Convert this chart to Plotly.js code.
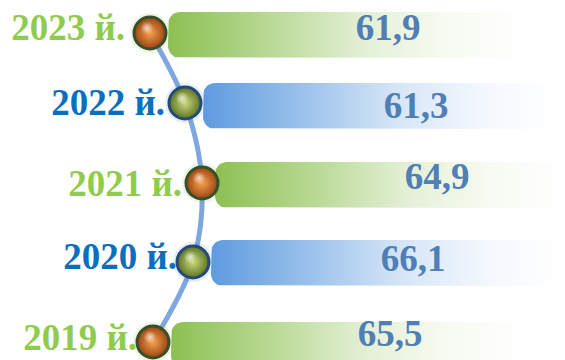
<!DOCTYPE html>
<html>
<head>
<meta charset="utf-8">
<script src="https://cdn.plot.ly/plotly-3.0.1.min.js"></script>
<style>html,body{margin:0;padding:0;background:#fff;}#chart{width:565px;height:360px;}</style>
</head>
<body>
<div id="chart"></div>
<script>
// ---- data ----
const years = ['2023 й.', '2022 й.', '2021 й.', '2020 й.', '2019 й.'];
const values = [61.9, 61.3, 64.9, 66.1, 65.5];

// ---- layout (pixel positions of the infographic rows) ----
const rowY   = [35, 106, 185, 263, 345];
const ballX  = [150, 185, 202, 193, 153];
const ballY  = [33, 103, 183, 262, 342];
const barL   = [168, 203, 215, 211, 171];
const barR   = [525, 555, 565, 560, 525];
const barH   = 46;
const valX   = [388, 416, 437, 413, 390];
const valY   = [31, 109, 180, 262, 337];
const labR   = [125, 165, 182, 177, 137];
const labY   = [31, 106, 187, 260, 341];
const kind   = ['g', 'b', 'g', 'b', 'g'];

const labelColor = {g: '#8fcc4e', b: '#0a6fbf'};
const barScale = {
  g: [[0, '#8cc052'], [0.25, '#b3d68c'], [0.55, '#e4f0d6'], [0.8, '#f8fbf3'], [1, '#ffffff']],
  b: [[0, '#5f9be0'], [0.25, '#93bdea'], [0.55, '#d6e6f7'], [0.8, '#f4f8fe'], [1, '#ffffff']]
};

function barPath(L, R, top, bot, r) {
  const xs = [], ys = [];
  xs.push(L + r, R, R, L + r); ys.push(top, top, bot, bot);
  for (let a = 90; a <= 180; a += 10) {
    const t = a * Math.PI / 180;
    xs.push(L + r + r * Math.cos(t)); ys.push(bot - r + r * Math.sin(t));
  }
  for (let a = 180; a <= 270; a += 10) {
    const t = a * Math.PI / 180;
    xs.push(L + r + r * Math.cos(t)); ys.push(top + r + r * Math.sin(t));
  }
  return {xs, ys};
}

const traces = [];

// connecting curve
traces.push({
  type: 'scatter', mode: 'lines', x: ballX, y: ballY,
  line: {color: '#7fa6de', width: 5, shape: 'spline', smoothing: 1},
  hoverinfo: 'skip'
});

// bars
years.forEach((y, i) => {
  const p = barPath(barL[i], barR[i], rowY[i] - barH / 2, rowY[i] + barH / 2, 12);
  traces.push({
    type: 'scatter', mode: 'lines', x: p.xs, y: p.ys, fill: 'toself',
    line: {width: 0, color: 'rgba(0,0,0,0)'},
    fillgradient: {type: 'horizontal', colorscale: barScale[kind[i]], start: barL[i], stop: barR[i]},
    hoverinfo: 'skip'
  });
});

// ball halos
traces.push({
  type: 'scatter', mode: 'markers', x: ballX, y: ballY,
  marker: {size: 40, color: kind.map(k => k === 'g' ? 'rgba(140,190,90,0.15)' : 'rgba(90,140,210,0.15)'), line: {width: 0}},
  hoverinfo: 'skip'
});
// balls
traces.push({
  type: 'scatter', mode: 'markers', x: ballX, y: ballY,
  marker: {
    size: 32,
    color: kind.map(k => k === 'g' ? '#9a4410' : '#5a7420'),
    gradient: {type: 'radial', color: kind.map(k => k === 'g' ? '#f7a050' : '#cdd97e')},
    line: {width: 3, color: kind.map(k => k === 'g' ? '#35502a' : '#27487a')}
  },
  hoverinfo: 'skip'
});
// highlights
traces.push({
  type: 'scatter', mode: 'markers', x: ballX.map(v => v - 3), y: ballY.map(v => v - 5),
  marker: {size: 13, color: 'rgba(255,255,255,0)', gradient: {type: 'radial', color: 'rgba(255,255,255,0.7)'}, line: {width: 0}},
  hoverinfo: 'skip'
});

// year labels
traces.push({
  type: 'scatter', mode: 'text', x: labR, y: labY, text: years,
  textposition: 'middle left',
  textfont: {family: 'Liberation Serif, Times New Roman, serif', size: 37, color: kind.map(k => labelColor[k]), weight: 'bold'},
  hoverinfo: 'skip'
});
// value labels
traces.push({
  type: 'scatter', mode: 'text', x: valX, y: valY,
  text: values.map(v => v.toFixed(1).replace('.', ',')),
  textposition: 'middle center',
  textfont: {family: 'Liberation Serif, Times New Roman, serif', size: 37, color: '#4f7fb6', weight: 'bold'},
  hoverinfo: 'skip'
});

const layout = {
  width: 565, height: 360,
  margin: {l: 0, r: 0, t: 0, b: 0},
  paper_bgcolor: '#ffffff', plot_bgcolor: '#ffffff',
  showlegend: false,
  xaxis: {range: [0, 565], visible: false, fixedrange: true},
  yaxis: {range: [360, 0], visible: false, fixedrange: true}
};

Plotly.newPlot('chart', traces, layout, {staticPlot: true, displayModeBar: false});
</script>
</body>
</html>
